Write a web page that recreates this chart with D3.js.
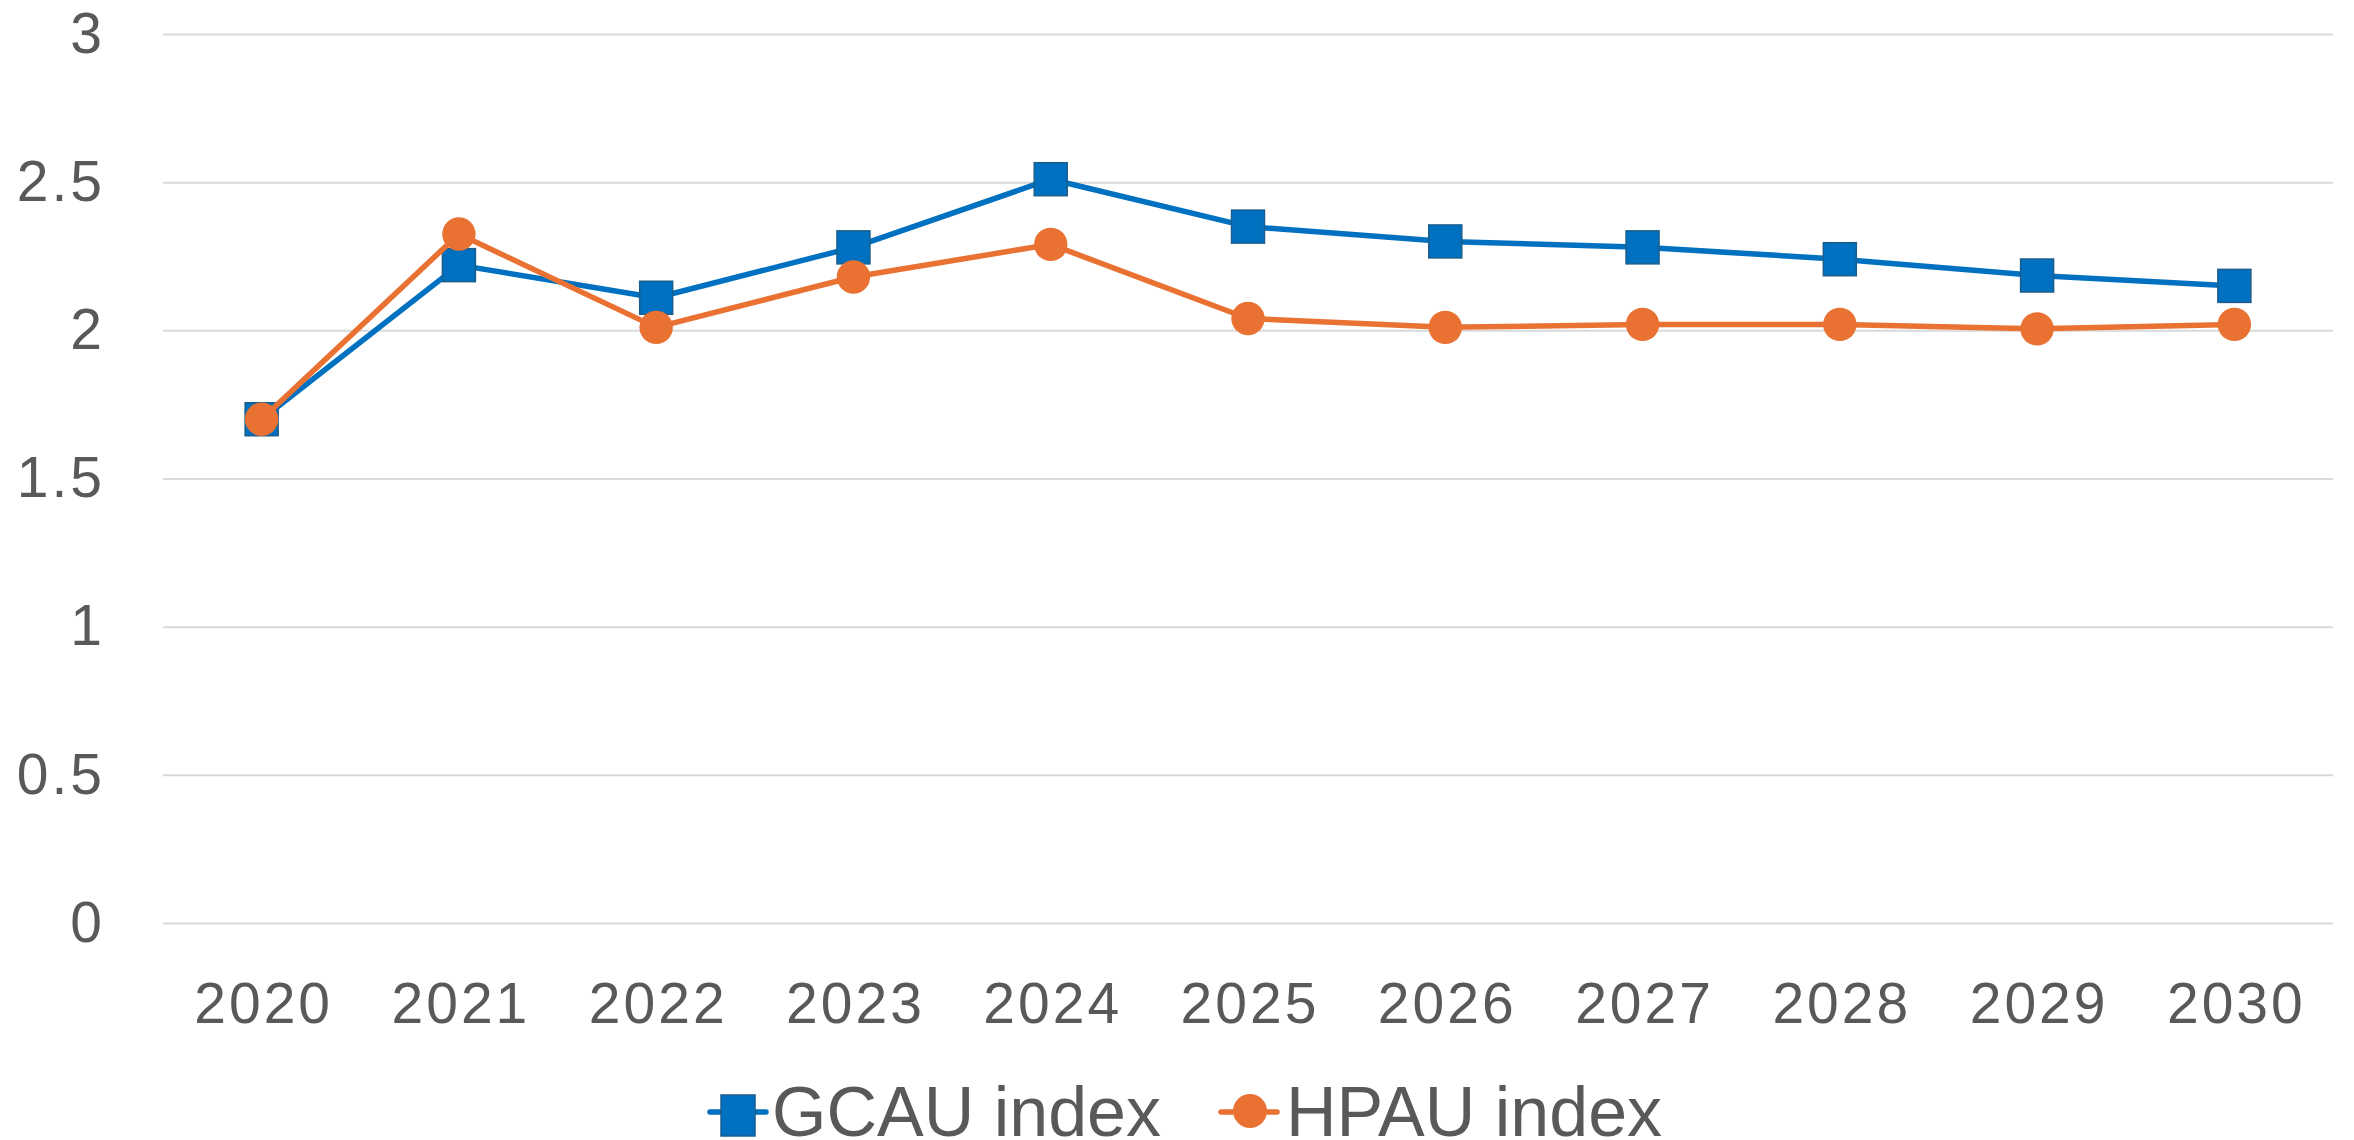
<!DOCTYPE html>
<html>
<head>
<meta charset="utf-8">
<script src="https://cdn.jsdelivr.net/npm/d3@7"></script>
<style>
  body { margin: 0; background: #fff; }
  svg { display: block; font-family: "Liberation Sans", Arial, sans-serif; }
</style>
</head>
<body>
<svg id="chart" width="2354" height="1140"></svg>
<script>
// chart data
const years = ["2020", "2021", "2022", "2023", "2024", "2025", "2026", "2027", "2028", "2029", "2030"];
const gcau = [1.70, 2.22, 2.11, 2.28, 2.51, 2.35, 2.30, 2.28, 2.24, 2.185, 2.15];
const hpau = [1.70, 2.325, 2.01, 2.18, 2.29, 2.04, 2.01, 2.02, 2.02, 2.005, 2.02];
const yTicks = [0, 0.5, 1, 1.5, 2, 2.5, 3];
const yTickLabels = ["0", "0.5", "1", "1.5", "2", "2.5", "3"];
const seriesNames = ["GCAU index", "HPAU index"];

const blue = "#0070C0", blueEdge = "#1B5E8C", orange = "#E97132", textCol = "#595959";

const svg = d3.select("#chart");
const plotL = 163, plotR = 2333, plotT = 34, plotB = 923;

const x = d3.scalePoint().domain(years).range([plotL, plotR]).padding(0.5);
const y = d3.scaleLinear().domain([0, 3]).range([plotB, plotT]);

// y axis + gridlines
const yAxis = svg.append("g")
  .attr("transform", "translate(" + plotL + ",0)")
  .call(d3.axisLeft(y).tickValues(yTicks).tickSize(-(plotR - plotL))
    .tickFormat((d, i) => yTickLabels[i]));
yAxis.select(".domain").remove();
yAxis.selectAll(".tick line").attr("stroke", "#d9d9d9").attr("stroke-width", 2);
yAxis.selectAll(".tick text")
  .attr("x", -58)
  .attr("fill", textCol)
  .style("font-size", "57px")
  .style("letter-spacing", "3px");

// x axis
const xAxis = svg.append("g")
  .attr("transform", "translate(0," + plotB + ")")
  .call(d3.axisBottom(x).tickSize(0));
xAxis.select(".domain").remove();
xAxis.selectAll(".tick text")
  .attr("y", 100)
  .attr("dy", null)
  .attr("dx", "1.5px")
  .attr("fill", textCol)
  .style("font-size", "57px")
  .style("letter-spacing", "3px");

const line = d3.line()
  .x((d, i) => x(years[i]))
  .y(d => y(d));

// GCAU series
svg.append("path")
  .datum(gcau)
  .attr("fill", "none")
  .attr("stroke", blue)
  .attr("stroke-width", 5.5)
  .attr("stroke-linejoin", "round")
  .attr("d", line);

const sq = 33;
svg.selectAll(".sq")
  .data(gcau)
  .enter()
  .append("rect")
  .attr("x", (d, i) => x(years[i]) - sq / 2)
  .attr("y", d => y(d) - sq / 2)
  .attr("width", sq)
  .attr("height", sq)
  .attr("fill", blue)
  .attr("stroke", blueEdge)
  .attr("stroke-width", 1.5);

// HPAU series
svg.append("path")
  .datum(hpau)
  .attr("fill", "none")
  .attr("stroke", orange)
  .attr("stroke-width", 5.5)
  .attr("stroke-linejoin", "round")
  .attr("d", line);

svg.selectAll(".dot")
  .data(hpau)
  .enter()
  .append("circle")
  .attr("r", 16.7)
  .attr("fill", orange)
  .attr("cx", (d, i) => x(years[i]))
  .attr("cy", d => y(d));

// legend
const lg = svg.append("g");
lg.append("line").attr("x1", 710).attr("x2", 766).attr("y1", 1112).attr("y2", 1112)
  .attr("stroke", blue).attr("stroke-width", 5.5).attr("stroke-linecap", "round");
lg.append("rect").attr("x", 721).attr("y", 1095).attr("width", 34).attr("height", 41)
  .attr("fill", blue).attr("stroke", blueEdge).attr("stroke-width", 1.5);
lg.append("text").attr("x", 772).attr("y", 1136).text(seriesNames[0])
  .attr("fill", textCol).style("font-size", "70px");

lg.append("line").attr("x1", 1221).attr("x2", 1277).attr("y1", 1112).attr("y2", 1112)
  .attr("stroke", orange).attr("stroke-width", 5.5).attr("stroke-linecap", "round");
lg.append("circle").attr("cx", 1250).attr("cy", 1111).attr("r", 17).attr("fill", orange);
lg.append("text").attr("x", 1286).attr("y", 1136).text(seriesNames[1])
  .attr("fill", textCol).style("font-size", "70px");
</script>
</body>
</html>
